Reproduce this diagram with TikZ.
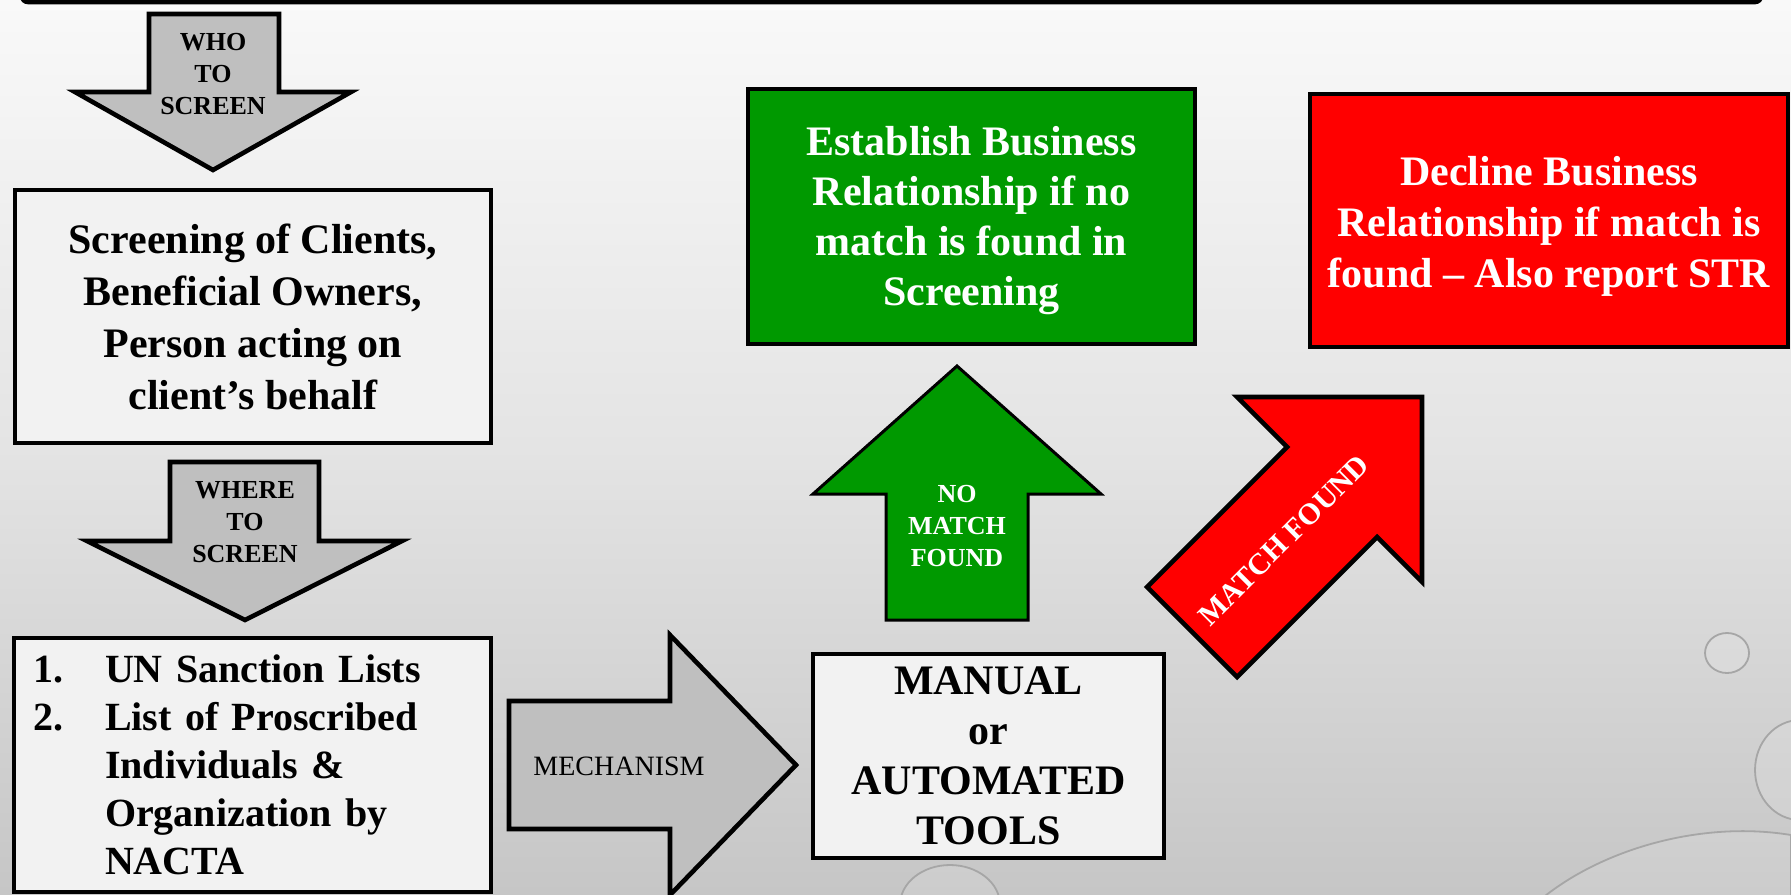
\documentclass[tikz,border=0pt]{standalone}
\usepackage{fontspec}
\setmainfont{Liberation Serif}
\definecolor{boxfill}{RGB}{242,242,242}
\definecolor{arrowgray}{RGB}{191,191,191}
\definecolor{okgreen}{RGB}{0,153,0}
\definecolor{nored}{RGB}{255,0,0}
\definecolor{bgtop}{RGB}{249,249,249}
\definecolor{bgmid}{RGB}{228,228,228}
\definecolor{bgbot}{RGB}{198,198,198}
\begin{document}
\begin{tikzpicture}[x=0.5pt,y=-0.5pt,
  box/.style={draw=black, line width=2.3pt, fill=boxfill, inner sep=0pt, align=center},
  bigtext/.style={font=\fontsize{21}{26}\selectfont\bfseries},
  blockarrow/.style={draw=black, line width=2.3pt, line join=miter},
  smalllabel/.style={font=\fontsize{13}{16}\selectfont\bfseries, align=center, inner sep=0pt},
  droplet/.style={draw=gray!70, line width=0.9pt, fill=white, fill opacity=0.12}]
\useasboundingbox (0,0) rectangle (1791,894);
% background
\shade[top color=bgtop, bottom color=bgbot, middle color=bgmid] (0,0) rectangle (1791,894);
% droplets
\draw[droplet] (1727,653) ellipse [x radius=22, y radius=20];
\draw[droplet] (1800,770) ellipse [x radius=45, y radius=50];
\draw[droplet] (950,905) ellipse [x radius=50, y radius=40];
\draw[droplet] (1540,900) .. controls (1600,850) and (1700,820) .. (1791,835) -- (1791,900) -- cycle;
% title box bottom edge
\draw[line width=2.3pt, rounded corners=3pt, fill=white] (22,-40) rectangle (1761,2);
% WHO TO SCREEN arrow
\draw[blockarrow, fill=arrowgray] (149,14) -- (279,14) -- (279,92) -- (351,92) -- (213,170) -- (75,92) -- (149,92) -- cycle;
\node[smalllabel] (who) at (213,74) {WHO\\TO\\SCREEN};
% screening box
\node[box, bigtext, minimum width=238pt, minimum height=126.5pt] (screen) at (253,316.5)
  {Screening of Clients,\\Beneficial Owners,\\Person acting on\\client's behalf};
% WHERE TO SCREEN arrow
\draw[blockarrow, fill=arrowgray] (170,462) -- (319,462) -- (319,541) -- (402,541) -- (245,620) -- (87,541) -- (170,541) -- cycle;
\node[smalllabel] (where) at (245,522) {WHERE\\TO\\SCREEN};
% lists box
\node[box, font=\fontsize{20}{24}\selectfont\bfseries, minimum width=238.5pt, minimum height=127pt,
  align=left, text width=219.5pt, inner xsep=9.5pt] (lists) at (252.5,765)
  {\makebox[36pt][l]{1.}UN Sanction Lists\\
   \makebox[36pt][l]{2.}List of Proscribed\\
   \hspace*{36pt}Individuals \&\\
   \hspace*{36pt}Organization by\\
   \hspace*{36pt}NACTA};
% MECHANISM arrow
\draw[blockarrow, fill=arrowgray] (509,701) -- (670,701) -- (670,635) -- (796,765) -- (670,895) -- (670,829) -- (509,829) -- cycle;
\node[font=\fontsize{14}{16}\selectfont, inner sep=0pt] (mech) at (619,766) {MECHANISM};
% manual box
\node[box, font=\fontsize{21}{25}\selectfont\bfseries, minimum width=175.5pt, minimum height=102pt] (manual) at (988.5,756)
  {MANUAL\\or\\AUTOMATED\\TOOLS};
% green arrow
\draw[blockarrow, line width=1.5pt, fill=okgreen] (957,366) -- (1101,494) -- (1028,494) -- (1028,620) -- (886,620) -- (886,494) -- (813,494) -- cycle;
\node[smalllabel, text=white] (nomatch) at (957,526) {NO\\MATCH\\FOUND};
% establish box
\node[box, fill=okgreen, minimum width=223.5pt, minimum height=127.5pt] (establish) at (971.5,216.5) {};
\node[font=\fontsize{21}{25}\selectfont\bfseries, text=white, align=center, inner sep=0pt] (establishtext) at ([yshift=-2pt]establish.center)
  {Establish Business\\Relationship if no\\match is found in\\Screening};
% red arrow
\draw[blockarrow, fill=nored] (1147,587) -- (1287,447) -- (1237,397) -- (1422,397) -- (1422,582) -- (1377,537) -- (1237,677) -- cycle;
\node[font=\fontsize{15}{17}\selectfont\bfseries, text=white, rotate=45, inner sep=0pt] (matchfound) at (1284,540) {MATCH FOUND};
% decline box
\node[box, fill=nored, minimum width=239pt, minimum height=126.5pt] (decline) at (1549,220.5) {};
\node[font=\fontsize{21}{25.5}\selectfont\bfseries, text=white, align=center, inner sep=0pt] (declinetext) at ([yshift=-3pt]decline.center)
  {Decline Business\\Relationship if match is\\found -- Also report STR};
\end{tikzpicture}
\end{document}
